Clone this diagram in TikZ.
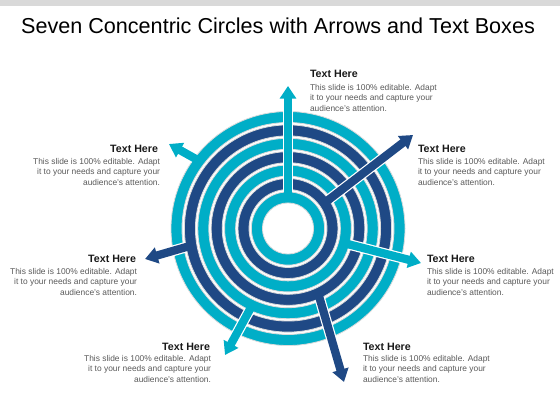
\documentclass[tikz,border=0pt]{standalone}
\usepackage{fontspec}
\setmainfont{Liberation Sans}
\usetikzlibrary{arrows.meta,calc}
\definecolor{ringcyan}{RGB}{0,174,199}
\definecolor{ringnavy}{RGB}{31,73,133}
\definecolor{blurbgray}{RGB}{89,89,89}
\definecolor{bargray}{RGB}{217,217,217}
\begin{document}
\begin{tikzpicture}[x=0.75pt,y=0.75pt]
\tikzset{ >=latex, inner sep=0pt, outer sep=0pt,
  heading/.style={font=\fontsize{8}{9.6}\selectfont\bfseries, text=black!90},
  blurb/.style={font=\fontsize{6.3}{8.1}\selectfont, text=blurbgray},
  ring/.style={draw=black!14, line width=0.6pt, even odd rule},
  shaft/.style={line width=6.2pt, -{Triangle[width=12pt,length=9.5pt]}},
  halo/.style={line width=8pt, white, -{Triangle[width=14pt,length=10.5pt]}},
}
\useasboundingbox (0,0) rectangle (560,420);
\fill [bargray] (0,414) rectangle (560,420);

\node [font=\fontsize{16.2}{19}\selectfont] (title) at (278,394) {Seven Concentric Circles with Arrows and Text Boxes};

\coordinate (C) at (288,191.5);

% seven rings, outer to inner
\foreach \i/\col in {0/ringcyan,1/ringnavy,2/ringcyan,3/ringnavy,4/ringcyan,5/ringnavy,6/ringcyan} {
  \pgfmathsetmacro\ro{117-13.4*\i}
  \pgfmathsetmacro\ri{\ro-11}
  \filldraw [ring, fill=\col] (C) circle (\ro) (C) circle (\ri);
}

% arrow starts (middle of its ring) and tips
\coordinate (s1) at ($(C)+(90:31)$);
\coordinate (s2) at ($(C)+(35:44.5)$);
\coordinate (s3) at ($(C)+(-14.6:58)$);
\coordinate (s4) at ($(C)+(-65:71.3)$);
\coordinate (s5) at ($(C)+(-115:84.7)$);
\coordinate (s6) at ($(C)+(190:98)$);
\coordinate (s7) at ($(C)+(142.7:111.5)$);

\coordinate (t1) at (288,334);
\coordinate (t2) at (413,285);
\coordinate (t3) at (421,157);
\coordinate (t4) at (344,38);
\coordinate (t5) at (225,65);
\coordinate (t6) at (145,161);
\coordinate (t7) at (169,276);

\foreach \k/\col in {1/ringcyan,2/ringnavy,3/ringcyan,4/ringnavy,5/ringcyan,6/ringnavy,7/ringcyan} {
  \draw [halo] ($(s\k)!4.5pt!(t\k)$) -- (t\k);
  \draw [shaft, \col] (s\k) -- (t\k);
}

% text boxes
\node [heading, anchor=west] (h1) at (310,346) {Text Here};
\node [blurb, anchor=north west, align=left] (b1) at (310,336) {This slide is 100\% editable. Adapt\\it to your needs and capture your\\audience's attention.};

\node [heading, anchor=west] (h2) at (418,271) {Text Here};
\node [blurb, anchor=north west, align=left] (b2) at (418,262) {This slide is 100\% editable. Adapt\\it to your needs and capture your\\audience's attention.};

\node [heading, anchor=west] (h3) at (427,161) {Text Here};
\node [blurb, anchor=north west, align=left] (b3) at (427,152) {This slide is 100\% editable. Adapt\\it to your needs and capture your\\audience's attention.};

\node [heading, anchor=west] (h4) at (363,73) {Text Here};
\node [blurb, anchor=north west, align=left] (b4) at (363,65) {This slide is 100\% editable. Adapt\\it to your needs and capture your\\audience's attention.};

\node [heading, anchor=east] (h5) at (210,73) {Text Here};
\node [blurb, anchor=north east, align=right] (b5) at (211,65) {This slide is 100\% editable. Adapt\\it to your needs and capture your\\audience's attention.};

\node [heading, anchor=east] (h6) at (136,161) {Text Here};
\node [blurb, anchor=north east, align=right] (b6) at (137,152) {This slide is 100\% editable. Adapt\\it to your needs and capture your\\audience's attention.};

\node [heading, anchor=east] (h7) at (158,271) {Text Here};
\node [blurb, anchor=north east, align=right] (b7) at (160,262) {This slide is 100\% editable. Adapt\\it to your needs and capture your\\audience's attention.};

\end{tikzpicture}
\end{document}
